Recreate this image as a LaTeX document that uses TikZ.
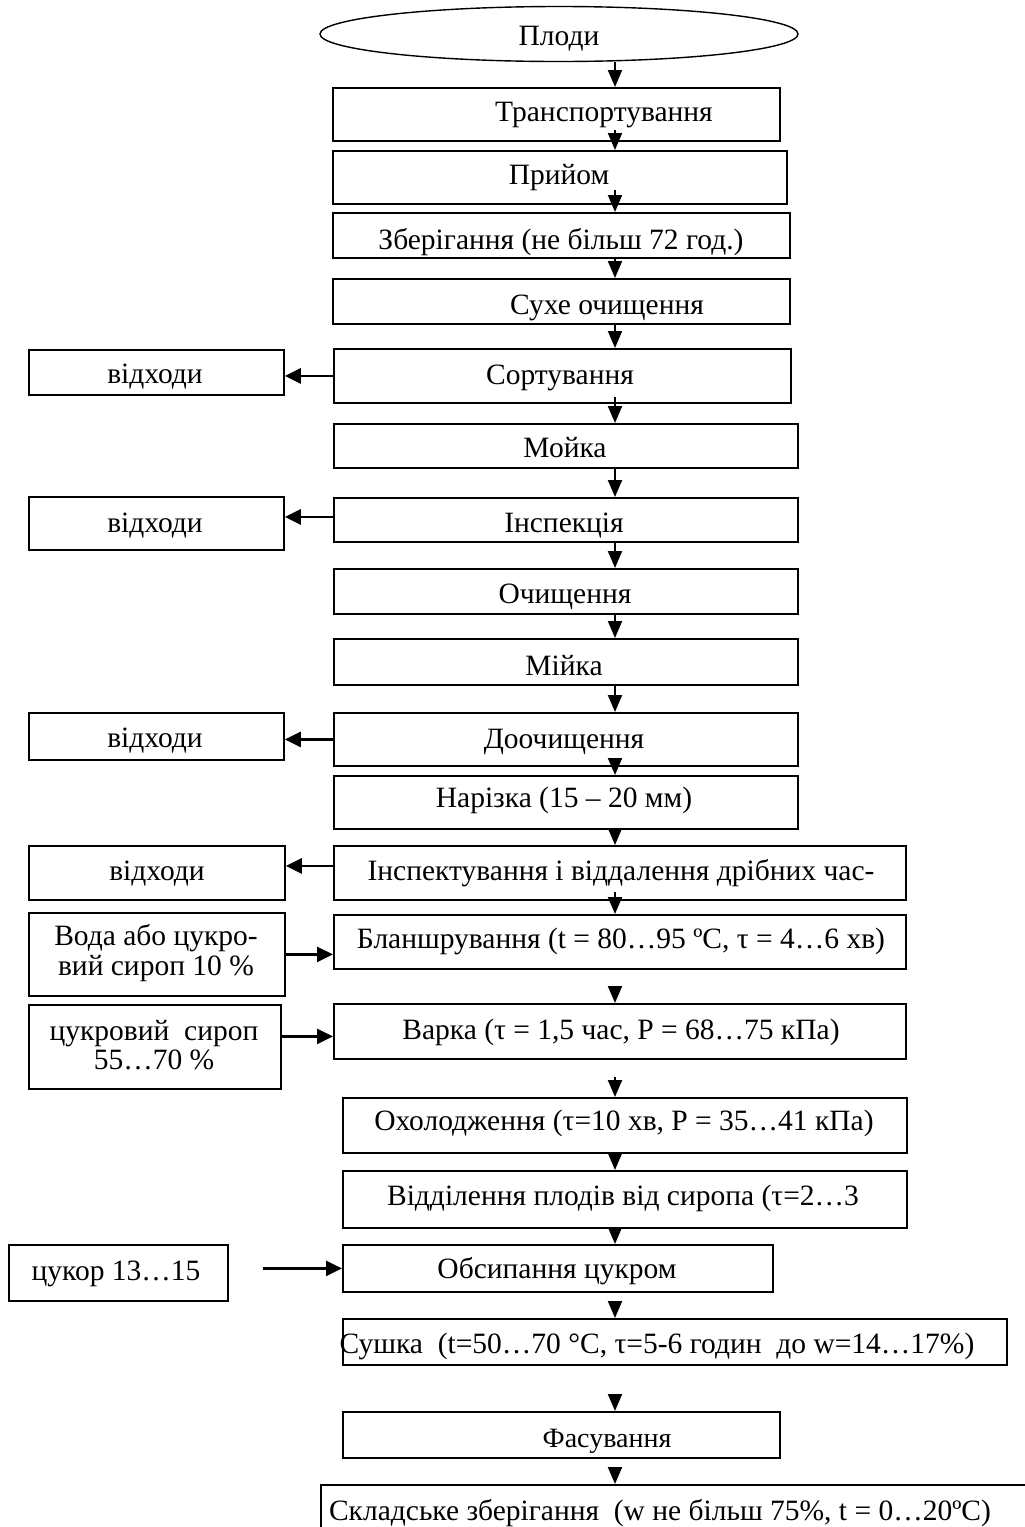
\documentclass[tikz,border=0pt]{standalone}
\usepackage{fontspec}
\setmainfont{Liberation Serif}
\usetikzlibrary{arrows.meta,shapes.geometric}
\tikzset{
  box/.style={draw, line width=1.8pt, rectangle, inner sep=0pt},
  txt/.style={inner sep=0pt, font=\fontsize{29.5}{29.5}\selectfont},
  arr/.style={line width=2pt, -{Triangle[length=17pt,width=14pt]}},
  harr/.style={line width=2.8pt, -{Triangle[length=16pt,width=15pt]}},
}
\newcommand{\mkbox}[5]{\node[box, anchor=north west, minimum width={#4pt-#2pt}, minimum height={#5pt-#3pt}] (#1) at (#2,#3) {};}
\newcommand{\mktxt}[4]{\node[txt, anchor=base] (#1) at (#2,#3) {#4};}
\begin{document}
\begin{tikzpicture}[x=1pt,y=-1pt]
\useasboundingbox (0,0) rectangle (1025,1527);
\fill[white] (0,0) rectangle (1025,1527);
\coordinate (ax) at (615,0);
% start ellipse
\node[draw, ellipse, line width=1.4pt, minimum width=478pt, minimum height=55pt, inner sep=0pt] (plody) at (559,34) {};
\mktxt{plodyt}{559}{45}{Плоди}
% main chain boxes
\mkbox{trans}{332}{87}{779}{140}
\mkbox{prijom}{332}{150}{786}{203}
\mkbox{zber}{332}{212}{789}{257}
\mkbox{suhe}{332}{278}{789}{323}
\mkbox{sort}{333}{348}{790}{402}
\mkbox{mojka}{333}{423}{797}{467}
\mkbox{insp}{333}{497}{797}{541}
\mkbox{ochysh}{333}{568}{797}{613}
\mkbox{mijka}{333}{638}{797}{684}
\mkbox{dooch}{333}{712}{797}{765}
\mkbox{nar}{333}{775}{797}{828}
\mkbox{inspekt}{333}{845}{905}{899}
\mkbox{blansh}{333}{914}{905}{968}
\mkbox{varka}{333}{1003}{905}{1058}
\mkbox{oholod}{342}{1097}{906}{1152}
\mkbox{viddil}{342}{1170}{906}{1227}
\mkbox{obs}{342}{1244}{772}{1291}
\mkbox{sushka}{342}{1318}{1006}{1364}
\mkbox{fas}{342}{1411}{779}{1457}
\mkbox{sklad}{320}{1484}{1045}{1550}
% side boxes
\mkbox{vid1}{28}{349}{283}{394}
\mkbox{vid2}{28}{496}{283}{549}
\mkbox{vid3}{28}{712}{283}{759}
\mkbox{vid4}{28}{845}{284}{899}
\mkbox{voda}{28}{912}{284}{995}
\mkbox{syrop}{28}{1004}{280}{1088}
\mkbox{tsukor}{8}{1244}{227}{1300}
% texts
\mktxt{transt}{604}{121}{Транспортування}
\mktxt{prijomt}{559}{184}{Прийом}
\mktxt{zbert}{561}{249}{Зберігання (не більш 72 год.)}
\mktxt{suhet}{607}{314}{Сухе очищення}
\mktxt{sortt}{560}{384}{Сортування}
\mktxt{mojkat}{565}{457}{Мойка}
\mktxt{inspt}{564}{532}{Інспекція}
\mktxt{ochysht}{565}{603}{Очищення}
\mktxt{mijkat}{564}{675}{Мійка}
\mktxt{doocht}{564}{748}{Доочищення}
\mktxt{nart}{564}{807}{Нарізка (15 – 20 мм)}
\mktxt{inspektt}{621}{880}{Інспектування і віддалення дрібних час-}
\mktxt{blansht}{621}{948}{Бланшрування (t = 80…95 ºC, τ = 4…6 хв)}
\mktxt{varkat}{621}{1039}{Варка (τ = 1,5 час, Р = 68…75 кПа)}
\mktxt{oholodt}{624}{1130}{Охолодження (τ=10 хв, Р = 35…41 кПа)}
\mktxt{viddilt}{623}{1205}{Відділення плодів від сиропа (τ=2…3}
\mktxt{obst}{557}{1278}{Обсипання цукром}
\mktxt{sushkat}{657}{1353}{Сушка\ \ (t=50…70 °C, τ=5-6 годин\ \ до w=14…17\%)}
\node[txt, anchor=base, font=\fontsize{28}{28}\selectfont] (fast) at (607,1447) {Фасування};
\mktxt{skladt}{660}{1520}{Складське зберігання\ \ (w не більш 75\%, t = 0…20ºC)}
\mktxt{vid1t}{155}{383}{відходи}
\mktxt{vid2t}{155}{532}{відходи}
\mktxt{vid3t}{155}{747}{відходи}
\mktxt{vid4t}{157}{880}{відходи}
\node[txt, align=center] (vodat) at (156,953) {Вода або цукро-\\вий сироп 10 \%};
\node[txt, align=center] (syropt) at (154,1045) {цукровий\ \ сироп\\55…70 \%};
\mktxt{tsukort}{116}{1280}{цукор 13…15}
% vertical arrows
\draw[arr] (plody.south -| ax) -- (trans.north -| ax);
\draw[arr] ([yshift=12pt]trans.south -| ax) -- (prijom.north -| ax);
\draw[arr] ([yshift=15pt]prijom.south -| ax) -- (zber.north -| ax);
\draw[arr] ([yshift=2pt]zber.south -| ax) -- (suhe.north -| ax);
\draw[arr] (suhe.south -| ax) -- (sort.north -| ax);
\draw[arr] ([yshift=7pt]sort.south -| ax) -- (mojka.north -| ax);
\draw[arr] (mojka.south -| ax) -- (insp.north -| ax);
\draw[arr] (insp.south -| ax) -- (ochysh.north -| ax);
\draw[arr] ([yshift=1pt]ochysh.south -| ax) -- (mijka.north -| ax);
\draw[arr] (mijka.south -| ax) -- (dooch.north -| ax);
\draw[arr] ([yshift=8pt]dooch.south -| ax) -- (nar.north -| ax);
\draw[arr] (nar.south -| ax) -- (inspekt.north -| ax);
\draw[arr] ([yshift=9pt]inspekt.south -| ax) -- (blansh.north -| ax);
\draw[arr] ([yshift=-19pt]blansh.south -| ax) -- (varka.north -| ax);
\draw[arr] ([yshift=-17pt]varka.south -| ax) -- (oholod.north -| ax);
\draw[arr] (oholod.south -| ax) -- (viddil.north -| ax);
\draw[arr] (viddil.south -| ax) -- (obs.north -| ax);
\draw[arr] ([yshift=-9pt]obs.south -| ax) -- (sushka.north -| ax);
\draw[arr] ([yshift=-29pt]sushka.south -| ax) -- (fas.north -| ax);
\draw[arr] ([yshift=-10pt]fas.south -| ax) -- (sklad.north -| ax);
% horizontal arrows
\draw[harr] (sort.west) -- (sort.west -| vid1.east);
\draw[harr] ([yshift=3pt]insp.west) -- ([yshift=3pt]insp.west -| vid2.east);
\draw[harr] (dooch.west) -- (dooch.west -| vid3.east);
\draw[harr] ([yshift=7pt]inspekt.west) -- ([yshift=7pt]inspekt.west -| vid4.east);
\draw[harr] (voda.east) -- (voda.east -| blansh.west);
\draw[harr] ([yshift=-5pt]varka.west -| syrop.east) -- ([yshift=-5pt]varka.west);
\draw[harr] ([xshift=34pt]tsukor.east |- obs.west) -- (obs.west);
\end{tikzpicture}
\end{document}
